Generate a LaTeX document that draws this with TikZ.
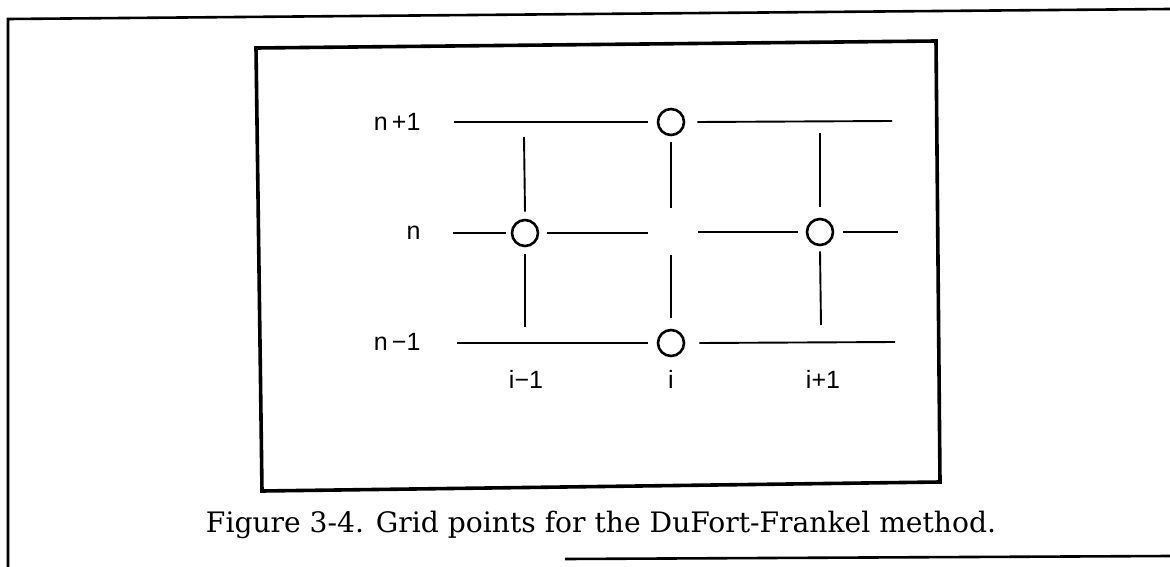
\documentclass[tikz,border=0pt]{standalone}
\usepackage{fontspec}
\setsansfont{Liberation Sans}
\newfontfamily\capfont{DejaVu Serif}
\usepackage{tikz}

\begin{document}
\begin{tikzpicture}[x=1pt, y=-1pt,
        frame/.style={line width=2.6pt},
        gridline/.style={line width=1.9pt},
        gpoint/.style={circle, draw, line width=2.6pt, minimum size=26pt, inner sep=0pt},
        lbl/.style={font=\fontsize{25}{29}\selectfont\sffamily}]
        \useasboundingbox (0,0) rectangle (1170,567);
        % page frame and figure box
        \draw[frame] (8,567) -- (8,19) -- (1170,9);
        \draw[frame] (565,559) -- (1170,556);
        \draw[frame, line width=3.6pt] (256,48) -- (936,41) -- (940,482) -- (262,491) -- cycle;
        % grid points of the stencil
        \node[gpoint] (top) at (671,122) {};
        \node[gpoint] (left) at (525,233) {};
        \node[gpoint] (right) at (820,232) {};
        \node[gpoint] (bot) at (671,343) {};
        % time levels
        \draw[gridline] (454,122) -- ([xshift=-9pt]top.west);
        \draw[gridline] ([xshift=12pt]top.east) -- (892,121);
        \draw[gridline] (453,233) -- ([xshift=-5pt]left.west);
        \draw[gridline] ([xshift=8pt]left.east) -- (648,233);
        \draw[gridline] (698,232) -- ([xshift=-8pt]right.west);
        \draw[gridline] ([xshift=9pt]right.east) -- (898,232);
        \draw[gridline] (457,343) -- ([xshift=-9pt]bot.west);
        \draw[gridline] ([xshift=14pt]bot.east) -- (895,342);
        % space columns
        \draw[gridline] (524,137) -- ([yshift=7pt]left.north);
        \draw[gridline] ([yshift=-7pt]left.south) -- (525,327);
        \draw[gridline] ([yshift=-6pt]top.south) -- (671,208);
        \draw[gridline] (671,255) -- ([yshift=11pt]bot.north);
        \draw[gridline] (820,133) -- ([yshift=11pt]right.north);
        \draw[gridline] ([yshift=-5pt]right.south) -- (821,325);
        % labels
        \node[lbl, anchor=east] (np) at (424,122) {n\,+1};
        \node[lbl, anchor=east] (nn) at (424,233) {n};
        \node[lbl, anchor=east] (nm) at (424,342) {n\,−1};
        \node[lbl] (im) at (526,379) {i−1};
        \node[lbl] (ii) at (671,379) {i};
        \node[lbl] (ip) at (823,379) {i+1};
        \node[anchor=base] (cap) at (601,532)
            {\resizebox{790pt}{!}{\capfont Figure 3-4. Grid points for the DuFort-Frankel method.}};
\end{tikzpicture}
\end{document}
